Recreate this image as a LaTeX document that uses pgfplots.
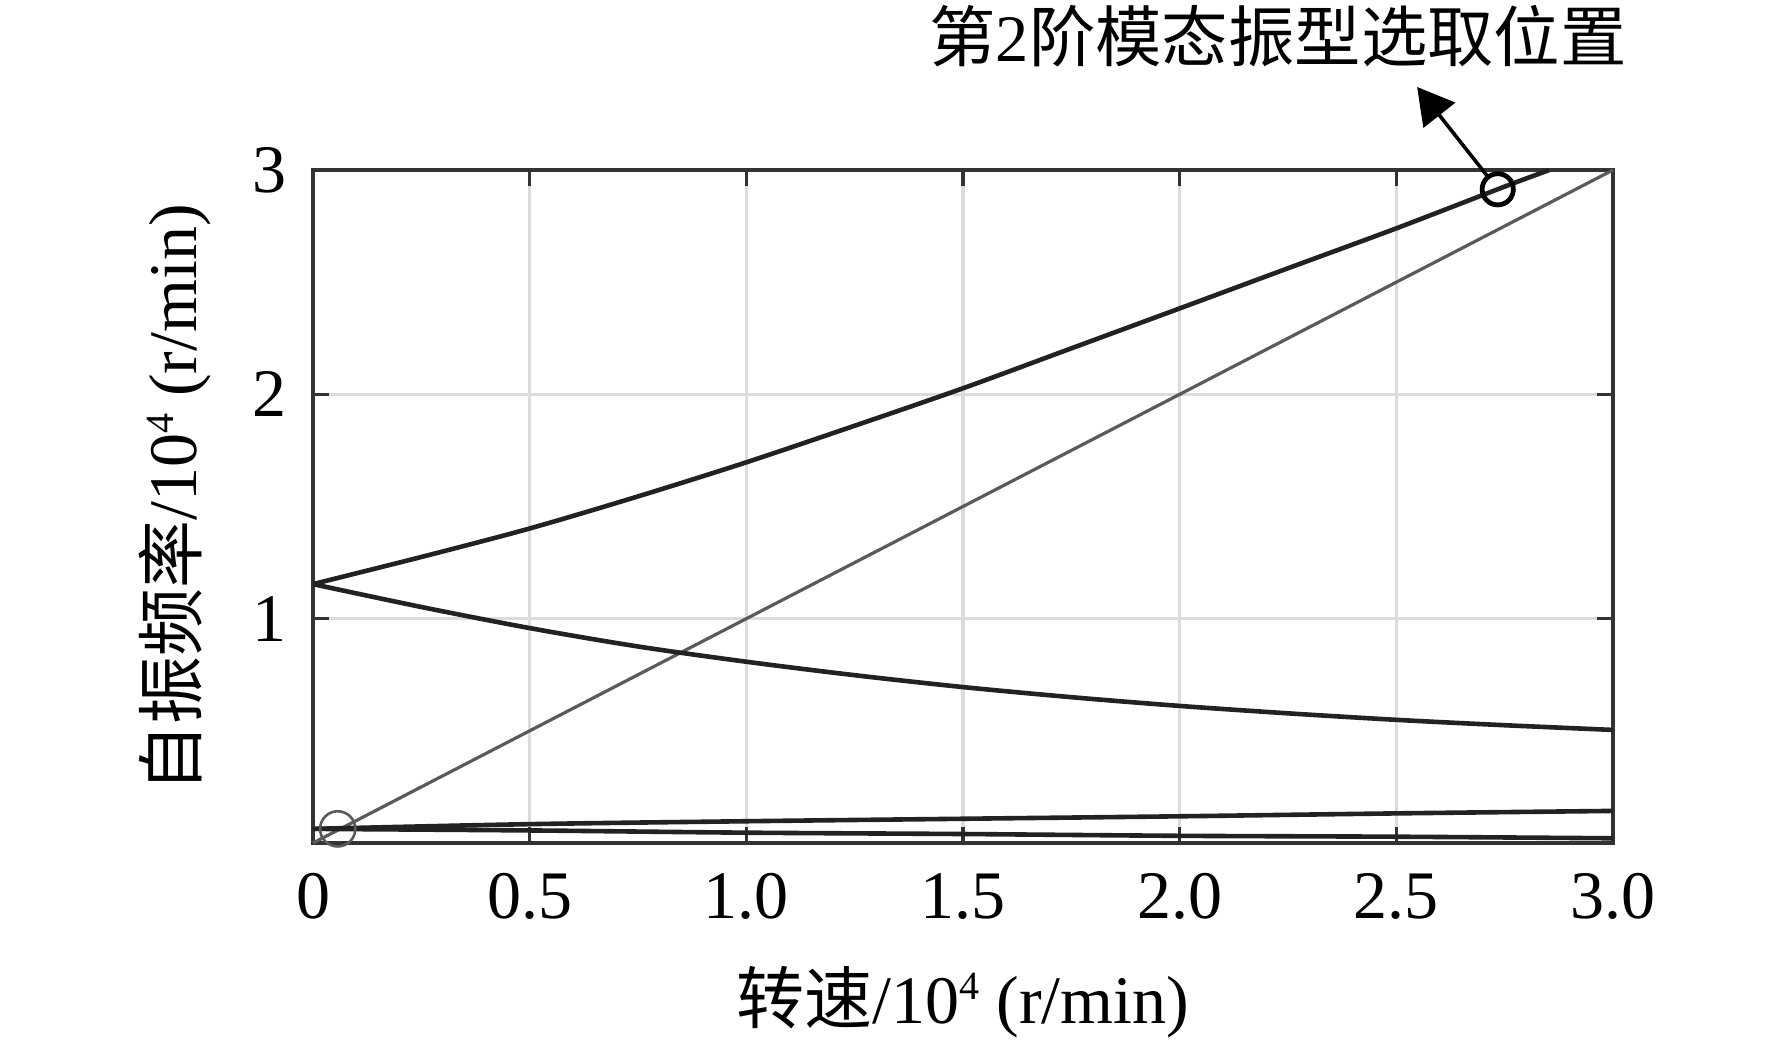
\documentclass[border=0pt]{standalone}
\usepackage{fontspec}
\setmainfont{Liberation Serif}
\newfontfamily\cjk{Noto Sans CJK SC}
\usepackage{pgfplots}
\pgfplotsset{compat=1.18}
\usetikzlibrary{arrows.meta}
\definecolor{curve}{HTML}{222222}
\definecolor{axc}{HTML}{333333}
\definecolor{gridc}{HTML}{DCDCDC}
\definecolor{linec}{HTML}{5A5A5A}
\newcommand{\supx}[1]{\raisebox{0.75ex}{\fontsize{10}{12}\selectfont #1}}
\begin{document}
\begin{tikzpicture}
\begin{axis}[
  name=ax,
  scale only axis,
  width=325pt, height=168.25pt,
  xmin=0, xmax=3, ymin=0, ymax=3,
  xtick={0,0.5,1,1.5,2,2.5,3},
  xticklabels={0,0.5,1.0,1.5,2.0,2.5,3.0},
  ytick={1,2,3},
  tick align=inside,
  major tick length=4pt,
  tick style={axc, line width=0.85pt},
  axis line style={axc, line width=0.9pt},
  grid=major,
  major grid style={gridc, line width=0.9pt},
  /pgf/number format/assume math mode=true,
  ticklabel style={font=\fontsize{17}{20}\selectfont},
  xticklabel style={yshift=-4pt},
  yticklabel style={xshift=-3pt},
  label style={font=\fontsize{17}{20}\selectfont},
  xlabel={{\cjk 转速}/10\supx{4} (r/min)},
  ylabel={{\cjk 自振频率}/10\supx{4} (r/min)},
  xlabel style={at={(axis description cs:0.5,0)}, anchor=center, yshift=-39.75pt},
  ylabel style={at={(axis description cs:0,0.5)}, anchor=center, yshift=34.5pt, xshift=2pt},
  clip=false,
]
% y = x line
\addplot[linec, line width=0.8pt] coordinates {(0,0) (3,3)};
% upper forward whirl
\addplot[curve, line width=1.15pt, smooth] coordinates {
 (0,1.154) (0.25,1.275) (0.5,1.402) (0.75,1.545) (1.0,1.697) (1.25,1.860) (1.5,2.027) (1.75,2.205) (2.0,2.383) (2.25,2.562) (2.5,2.740) (2.75,2.926) (2.853,3.0)};
% lower backward whirl
\addplot[curve, line width=1.15pt, smooth] coordinates {
 (0,1.154) (0.25,1.052) (0.5,0.958) (0.75,0.876) (1.0,0.808) (1.25,0.748) (1.5,0.695) (1.75,0.650) (2.0,0.611) (2.25,0.578) (2.5,0.549) (2.75,0.525) (3.0,0.504)};
% low forward
\addplot[curve, line width=1.15pt, smooth] coordinates {
 (0,0.063) (0.5,0.084) (1.0,0.097) (1.5,0.108) (2.0,0.119) (2.5,0.132) (3.0,0.143)};
% low backward
\addplot[curve, line width=1.15pt, smooth] coordinates {
 (0,0.063) (0.5,0.056) (1.0,0.046) (1.5,0.040) (2.0,0.032) (2.5,0.028) (3.0,0.021)};
% marker circles
\addplot[only marks, mark=o, mark size=4.4pt, mark options={linec, line width=0.65pt}] coordinates {(0.057,0.063)};
\addplot[only marks, mark=o, mark size=3.9pt, mark options={black, line width=1.2pt}] coordinates {(2.734,2.914)};
% annotation
\draw[black, line width=0.9pt, shorten <=4.2pt, -{Triangle[length=9pt,width=10pt]}] (axis cs:2.734,2.914) -- (axis cs:2.548,3.37);
\node[font=\fontsize{16.6}{20}\selectfont, inner sep=0pt] at (axis cs:2.227,3.597) {{\cjk 第}2{\cjk 阶模态振型选取位置}};
\end{axis}
\pgfresetboundingbox
\path ([xshift=-78.25pt,yshift=-50.5pt]ax.south west) rectangle ([xshift=39.75pt,yshift=42.5pt]ax.north east);
\end{tikzpicture}
\end{document}
